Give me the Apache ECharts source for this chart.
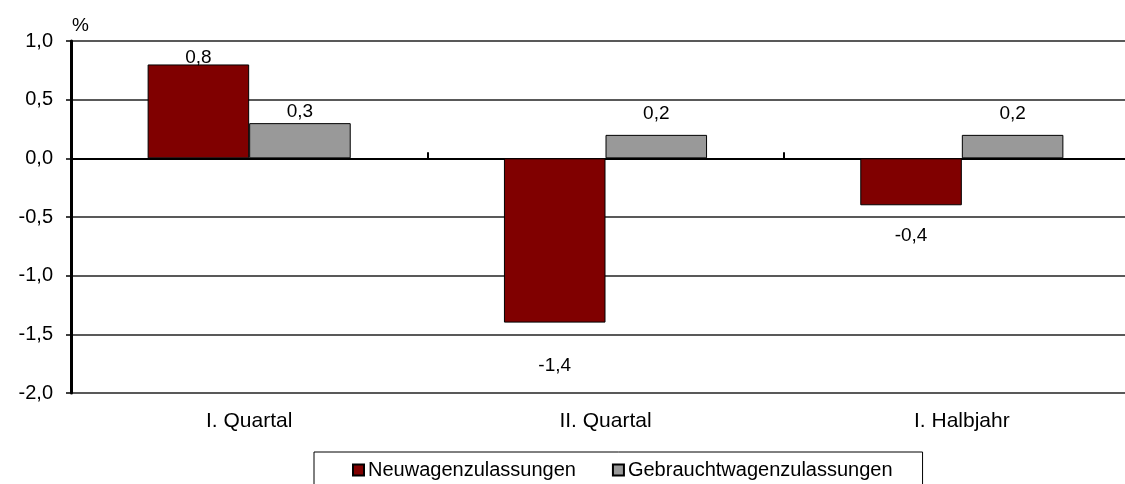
<!DOCTYPE html>
<html>
<head>
<meta charset="utf-8">
<script src="https://cdn.jsdelivr.net/npm/echarts@6/dist/echarts.min.js"></script>
<style>
  html, body { margin: 0; padding: 0; background: #fff; overflow: hidden; }
  #chart { width: 1140px; height: 484px; }
</style>
</head>
<body>
<div id="chart"></div>
<script>
// Veränderung der Zulassungen gegenüber Vorjahr, in %
const categories = ['I. Quartal', 'II. Quartal', 'I. Halbjahr'];
const neuwagen = [0.8, -1.4, -0.4];
const gebrauchtwagen = [0.3, 0.2, 0.2];
const yTicks = [-2.0, -1.5, -1.0, -0.5, 0.0, 0.5, 1.0];

// spacing between each bar end and its value label
const neuLabelGap = [-3, 34, 21];
const gebrLabelGap = [2, 12, 12];

const FONT = 'Liberation Sans, Arial, sans-serif';
const fmt = v => v.toFixed(1).replace('.', ',');

function barData(values, gaps) {
  return values.map((v, i) => ({
    value: v,
    label: { position: v >= 0 ? 'top' : 'bottom', distance: gaps[i] }
  }));
}

const chart = echarts.init(document.getElementById('chart'), null, { renderer: 'canvas' });

chart.setOption({
  animation: false,
  backgroundColor: '#ffffff',
  textStyle: { fontFamily: FONT, color: '#000' },
  grid: { left: 71, top: 41, width: 1069, height: 352, containLabel: false },
  graphic: [{
    type: 'text', left: 72, top: 16,
    style: { text: '%', font: '19px ' + FONT, fill: '#000' }
  }],
  legend: {
    left: 314, top: 452,
    padding: [8, 30, 20, 38],
    borderColor: '#000', borderWidth: 1,
    itemWidth: 11, itemHeight: 11, itemGap: 36,
    icon: 'rect',
    textStyle: { fontFamily: FONT, fontSize: 20, color: '#000', padding: [0, 0, 0, -1] },
    data: ['Neuwagenzulassungen', 'Gebrauchtwagenzulassungen']
  },
  xAxis: [{
    type: 'category', data: categories,
    axisLine: { show: false, onZero: false },
    axisTick: { show: false },
    axisLabel: { fontFamily: FONT, fontSize: 21, color: '#000', margin: 18 },
    splitLine: { show: false }
  }, {
    type: 'category', data: categories,
    axisLine: { show: true, onZero: true, lineStyle: { color: '#000', width: 2 } },
    axisTick: { show: true, length: 6, lineStyle: { color: '#000', width: 2 } },
    axisLabel: { show: false },
    splitLine: { show: false }
  }],
  yAxis: {
    type: 'value', min: yTicks[0], max: yTicks[yTicks.length - 1], interval: 0.5,
    axisLine: { show: true, lineStyle: { color: '#000', width: 3 } },
    axisTick: { show: true, length: 5, lineStyle: { color: '#000', width: 1.5 } },
    axisLabel: { fontFamily: FONT, fontSize: 20, color: '#000', margin: 18, formatter: fmt },
    splitLine: { show: true, lineStyle: { color: '#222', width: 1.5 } }
  },
  series: [{
    name: 'Neuwagenzulassungen', type: 'bar', xAxisIndex: 0,
    data: barData(neuwagen, neuLabelGap),
    barGap: '0%', barCategoryGap: '43%',
    itemStyle: { color: '#800000', borderColor: '#000', borderWidth: 1 },
    label: { show: true, fontFamily: FONT, fontSize: 19, color: '#000', formatter: p => fmt(p.value) }
  }, {
    name: 'Gebrauchtwagenzulassungen', type: 'bar', xAxisIndex: 0,
    data: barData(gebrauchtwagen, gebrLabelGap),
    barGap: '0%', barCategoryGap: '43%',
    itemStyle: { color: '#999999', borderColor: '#000', borderWidth: 1 },
    label: { show: true, fontFamily: FONT, fontSize: 19, color: '#000', formatter: p => fmt(p.value) }
  }]
});
</script>
</body>
</html>
